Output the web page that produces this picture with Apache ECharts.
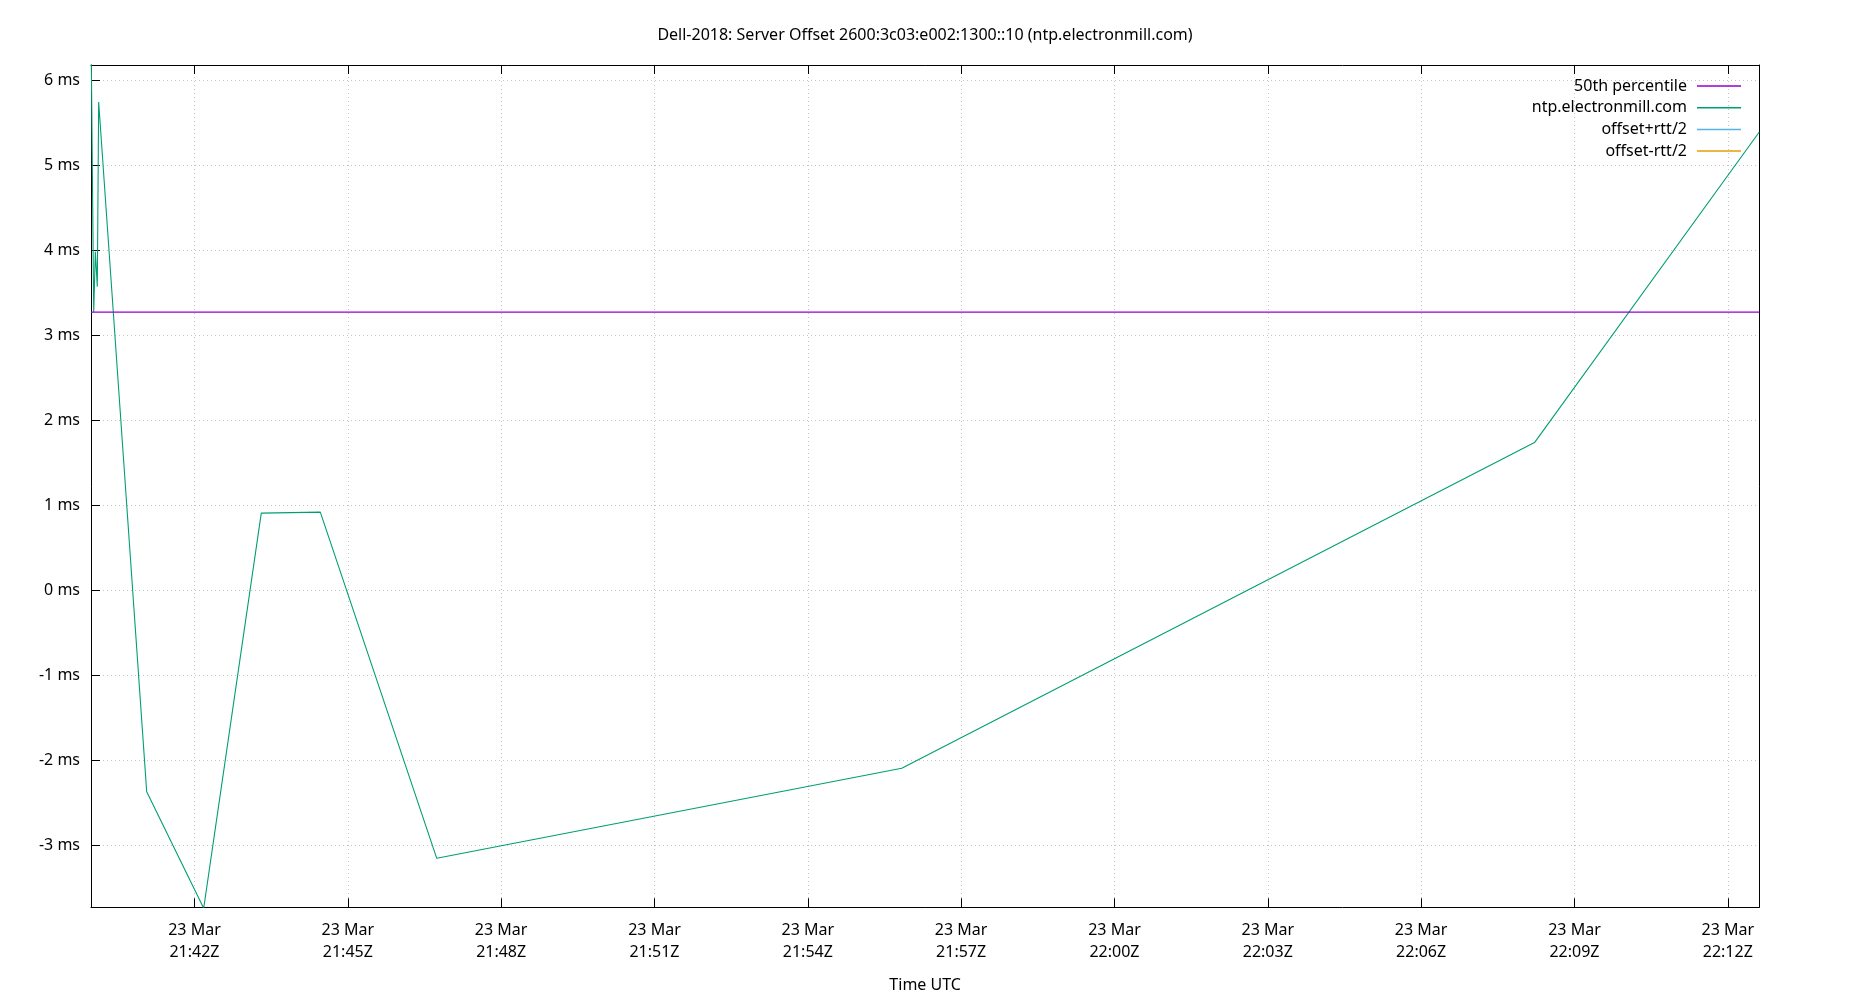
<!DOCTYPE html>
<html>
<head>
<meta charset="utf-8">
<script src="https://cdn.jsdelivr.net/npm/echarts@6/dist/echarts.min.js"></script>
<style>
html,body{margin:0;padding:0;background:#fff;}
#chart{width:1850px;height:1000px;}
</style>
</head>
<body>
<div id="chart"></div>
<script>
// ---- data (UTC, 23 Mar) ----
const sampleTimes = ['21:39:58.5','21:40:01.7','21:40:03.6','21:40:05.9','21:40:07.5','21:41:03.9','21:42:10.8','21:43:18.4','21:44:27.7','21:46:44.4','21:55:50.3','22:08:13.1','22:12:37.0'];
const offsetMs   = [6.6, 3.27, 3.98, 3.57, 5.74, -2.37, -3.74, 0.906, 0.918, -3.153, -2.094, 1.736, 5.388];
const median50   = 3.271;
const xTickLabels = ['21:42','21:45','21:48','21:51','21:54','21:57','22:00','22:03','22:06','22:09','22:12'];
const yTickValues = [-3,-2,-1,0,1,2,3,4,5,6];
const yMin = -3.729, yMax = 6.176;
const seriesNames = ['50th percentile','ntp.electronmill.com','offset+rtt/2','offset-rtt/2'];

function toMs(hms){
  const p = hms.split(':');
  return Date.UTC(2019,2,23, +p[0], +p[1], 0) + Math.round(parseFloat(p[2]||'0')*1000);
}
const xs = sampleTimes.map(toMs);
const xMin = xs[0], xMax = xs[xs.length-1];
const xTicks = xTickLabels.map(toMs);
const offsetData = xs.map((t,i)=>[t, offsetMs[i]]);
const medianData = [[xMin, median50],[xMax, median50]];

function pad(n){return (n<10?'0':'')+n;}
function fmtX(v){
  const d = new Date(v);
  return '23 Mar\n' + pad(d.getUTCHours()) + ':' + pad(d.getUTCMinutes()) + 'Z';
}

const font = 'Noto Sans';
const chart = echarts.init(document.getElementById('chart'), null, {renderer:'canvas'});
chart.setOption({
  backgroundColor:'#fff',
  animation:false,
  textStyle:{fontFamily:font},
  title:{
    text:'Dell-2018: Server Offset 2600:3c03:e002:1300::10 (ntp.electronmill.com)',
    left:'center', top:22,
    textStyle:{fontFamily:font, fontSize:16, fontWeight:'normal', color:'#000'}
  },
  legend:{
    orient:'vertical', right:104, top:73, align:'right',
    icon:'rect', itemWidth:44, itemHeight:1.5, itemGap:5.7,
    data:seriesNames,
    textStyle:{fontFamily:font, fontSize:16, lineHeight:16, color:'#000', padding:[0,5,0,0]}
  },
  grid:{left:91, right:90.7, top:65, bottom:92.7, containLabel:false},
  xAxis:[{
    type:'value', min:xMin, max:xMax, position:'bottom',
    name:'Time UTC', nameLocation:'middle', nameGap:70.5,
    nameTextStyle:{fontFamily:font, fontSize:16, color:'#000'},
    axisLine:{show:true, onZero:false, lineStyle:{color:'#000', width:1}},
    axisTick:{show:true, inside:true, length:9, customValues:xTicks, lineStyle:{color:'#000'}},
    axisLabel:{show:true, customValues:xTicks, formatter:fmtX, margin:12, lineHeight:22,
      fontFamily:font, fontSize:16, color:'#000', showMinLabel:true, showMaxLabel:true},
    splitLine:{show:true, lineStyle:{color:'#c4c4c4', type:[1,3], width:1}}
  },{
    type:'value', min:xMin, max:xMax, position:'top',
    axisLine:{show:true, onZero:false, lineStyle:{color:'#000', width:1}},
    axisTick:{show:true, inside:true, length:9, customValues:xTicks, lineStyle:{color:'#000'}},
    axisLabel:{show:false},
    splitLine:{show:false}
  }],
  yAxis:[{
    type:'value', min:yMin, max:yMax, position:'left',
    axisLine:{show:true, onZero:false, lineStyle:{color:'#000', width:1}},
    axisTick:{show:true, inside:true, length:9, customValues:yTickValues, lineStyle:{color:'#000'}},
    axisLabel:{show:true, customValues:yTickValues, formatter:v=>v+' ms', margin:11,
      padding:[3,0,0,0], fontFamily:font, fontSize:16, color:'#000'},
    splitLine:{show:true, lineStyle:{color:'#c4c4c4', type:[1,3], width:1}}
  },{
    type:'value', min:yMin, max:yMax, position:'right',
    axisLine:{show:true, onZero:false, lineStyle:{color:'#000', width:1}},
    axisTick:{show:false}, axisLabel:{show:false}, splitLine:{show:false}
  }],
  series:[{
    name:seriesNames[0], type:'line', data:medianData, symbol:'none',
    lineStyle:{color:'#9400d3', width:1.3}, itemStyle:{color:'#9400d3'}, clip:true, z:3
  },{
    name:seriesNames[1], type:'line', data:offsetData, symbol:'none',
    lineStyle:{color:'#009e73', width:1.1}, itemStyle:{color:'#009e73'}, clip:true, z:2
  },{
    name:seriesNames[2], type:'line', data:[], symbol:'none',
    lineStyle:{color:'#56b4e9', width:1.1}, itemStyle:{color:'#56b4e9'}
  },{
    name:seriesNames[3], type:'line', data:[], symbol:'none',
    lineStyle:{color:'#e69f00', width:1.1}, itemStyle:{color:'#e69f00'}
  }]
});
</script>
</body>
</html>
